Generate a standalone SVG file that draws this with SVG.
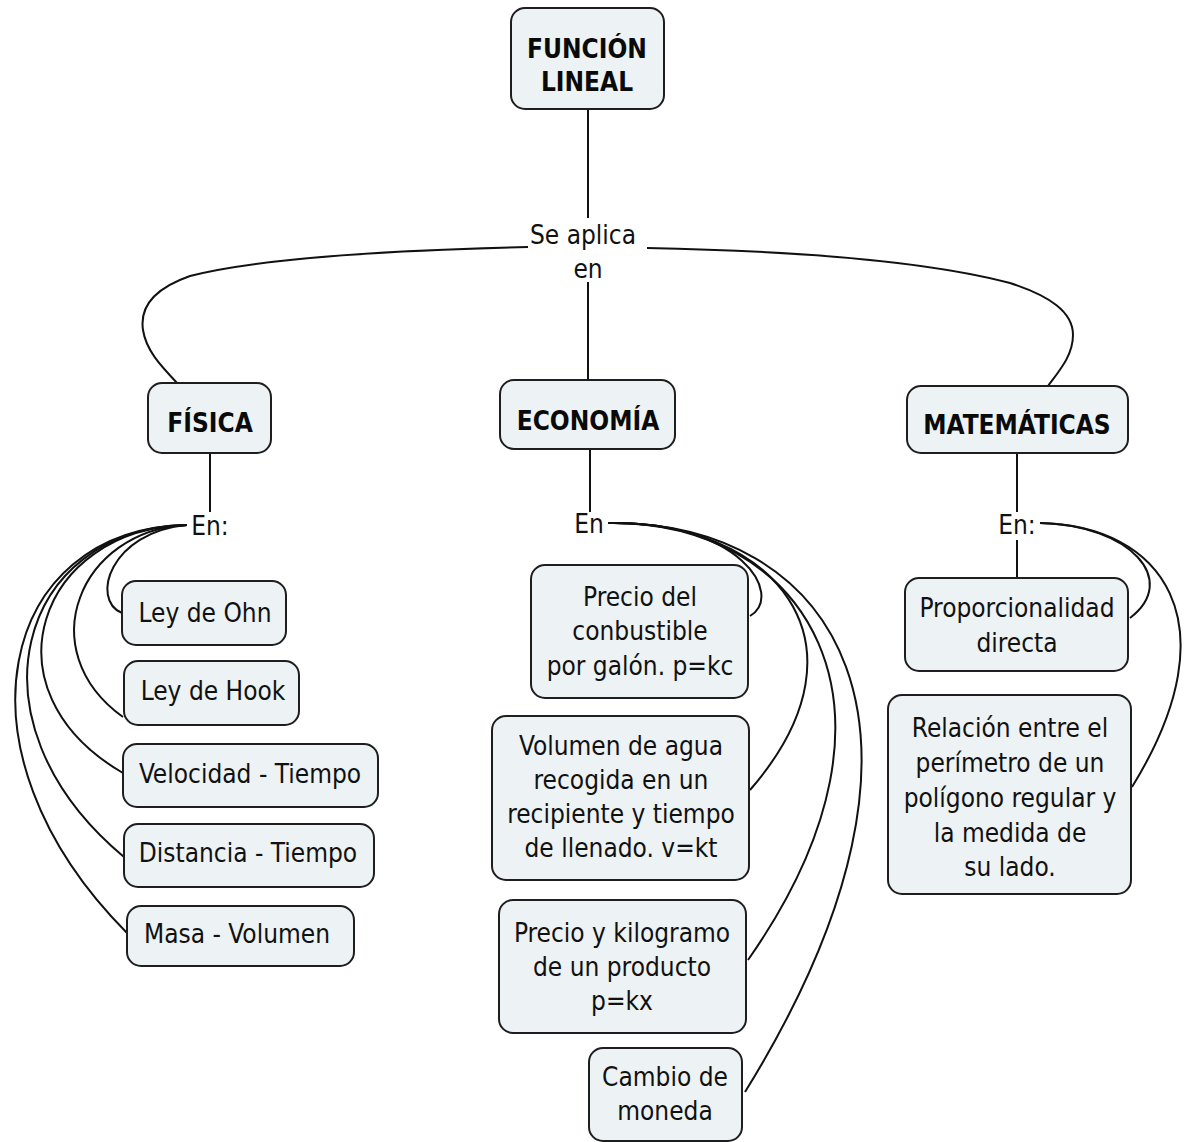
<svg xmlns="http://www.w3.org/2000/svg" width="1188" height="1142" viewBox="0 0 1188 1142">
  <style>
    .box { fill: #edf2f4; stroke: #1e1e1e; stroke-width: 2; }
    .link { fill: none; stroke: #111; stroke-width: 2; }
    text { font-family: "DejaVu Sans Condensed", "DejaVu Sans", sans-serif; font-size: 26px; fill: #111; text-anchor: middle; }
    .bold { font-weight: bold; fill: #0a0a0a; }
  </style>
  <rect x="0" y="0" width="1188" height="1142" fill="#ffffff"/>

  <!-- connectors -->
  <g id="connectors">
    <!-- root to "Se aplica en" -->
    <path class="link" d="M588,109 V218"/>
    <path class="link" d="M588,282 V381"/>
    <path class="link" d="M528,247 C400,250 260,258 190,276 C150,290 140,310 143,330 C146,350 160,365 178,384"/>
    <path class="link" d="M647,248 C800,251 930,262 1010,283 C1050,296 1073,312 1073,335 C1073,355 1060,370 1048,386"/>
    <!-- FÍSICA branch -->
    <path class="link" d="M210,453 V512"/>
    <path class="link" d="M187,525 C110,532 90,600 122,613"/>
    <path class="link" d="M187,525 C80,530 30,650 123,717"/>
    <path class="link" d="M187,525 C40,528 -20,690 123,773"/>
    <path class="link" d="M187,525 C20,528 -40,720 124,857"/>
    <path class="link" d="M187,525 C0,528 -55,750 127,933"/>
    <!-- ECONOMÍA branch -->
    <path class="link" d="M590,449 V512"/>
    <path class="link" d="M608,523 C740,520 785,595 750,616"/>
    <path class="link" d="M608,523 C770,520 880,640 750,790"/>
    <path class="link" d="M608,523 C800,520 930,700 748,960"/>
    <path class="link" d="M608,523 C830,520 975,720 745,1092"/>
    <!-- MATEMÁTICAS branch -->
    <path class="link" d="M1017,453 V512"/>
    <path class="link" d="M1017,540 V578"/>
    <path class="link" d="M1040,523 C1130,525 1180,580 1130,618"/>
    <path class="link" d="M1040,523 C1160,525 1235,620 1132,787"/>
  </g>

  <!-- linking phrases -->
  <g id="phrase-se-aplica">
    <text x="583" y="244">Se aplica</text>
    <text x="588" y="278">en</text>
  </g>
  <g id="phrase-en-fisica"><text x="210" y="535">En:</text></g>
  <g id="phrase-en-economia"><text x="589" y="533">En</text></g>
  <g id="phrase-en-matematicas"><text x="1017" y="534">En:</text></g>

  <!-- concepts -->
  <g id="funcion-lineal">
    <rect class="box" x="511" y="8" width="153" height="101" rx="14"/>
    <text class="bold" x="587" y="58">FUNCIÓN</text>
    <text class="bold" x="587" y="91">LINEAL</text>
  </g>
  <g id="fisica">
    <rect class="box" x="148" y="383" width="123" height="70" rx="14"/>
    <text class="bold" x="210" y="432">FÍSICA</text>
  </g>
  <g id="economia">
    <rect class="box" x="500" y="380" width="175" height="69" rx="14"/>
    <text class="bold" x="588" y="430">ECONOMÍA</text>
  </g>
  <g id="matematicas">
    <rect class="box" x="907" y="386" width="221" height="67" rx="14"/>
    <text class="bold" x="1017" y="434">MATEMÁTICAS</text>
  </g>

  <g id="ley-ohn">
    <rect class="box" x="122" y="581" width="164" height="64" rx="14"/>
    <text x="205" y="622">Ley de Ohn</text>
  </g>
  <g id="ley-hook">
    <rect class="box" x="124" y="661" width="175" height="64" rx="14"/>
    <text x="213" y="700">Ley de Hook</text>
  </g>
  <g id="velocidad-tiempo">
    <rect class="box" x="123" y="744" width="255" height="63" rx="14"/>
    <text x="250" y="783">Velocidad - Tiempo</text>
  </g>
  <g id="distancia-tiempo">
    <rect class="box" x="124" y="824" width="250" height="63" rx="14"/>
    <text x="248" y="862">Distancia - Tiempo</text>
  </g>
  <g id="masa-volumen">
    <rect class="box" x="127" y="906" width="227" height="60" rx="14"/>
    <text x="237" y="943">Masa - Volumen</text>
  </g>

  <g id="precio-combustible">
    <rect class="box" x="531" y="565" width="217" height="133" rx="14"/>
    <text x="640" y="606">Precio del</text>
    <text x="640" y="640">conbustible</text>
    <text x="640" y="675">por galón. p=kc</text>
  </g>
  <g id="volumen-agua">
    <rect class="box" x="492" y="716" width="257" height="164" rx="14"/>
    <text x="621" y="755">Volumen de agua</text>
    <text x="621" y="789">recogida en un</text>
    <text x="621" y="823">recipiente y tiempo</text>
    <text x="621" y="857">de llenado. v=kt</text>
  </g>
  <g id="precio-kilogramo">
    <rect class="box" x="499" y="900" width="247" height="133" rx="14"/>
    <text x="622" y="942">Precio y kilogramo</text>
    <text x="622" y="976">de un producto</text>
    <text x="622" y="1010">p=kx</text>
  </g>
  <g id="cambio-moneda">
    <rect class="box" x="589" y="1048" width="153" height="93" rx="14"/>
    <text x="665" y="1086">Cambio de</text>
    <text x="665" y="1120">moneda</text>
  </g>

  <g id="proporcionalidad">
    <rect class="box" x="905" y="578" width="223" height="93" rx="14"/>
    <text x="1017" y="617">Proporcionalidad</text>
    <text x="1017" y="652">directa</text>
  </g>
  <g id="relacion-perimetro">
    <rect class="box" x="888" y="695" width="243" height="199" rx="14"/>
    <text x="1010" y="737">Relación entre el</text>
    <text x="1010" y="772">perímetro de un</text>
    <text x="1010" y="807">polígono regular y</text>
    <text x="1010" y="842">la medida de</text>
    <text x="1010" y="876">su lado.</text>
  </g>
</svg>
